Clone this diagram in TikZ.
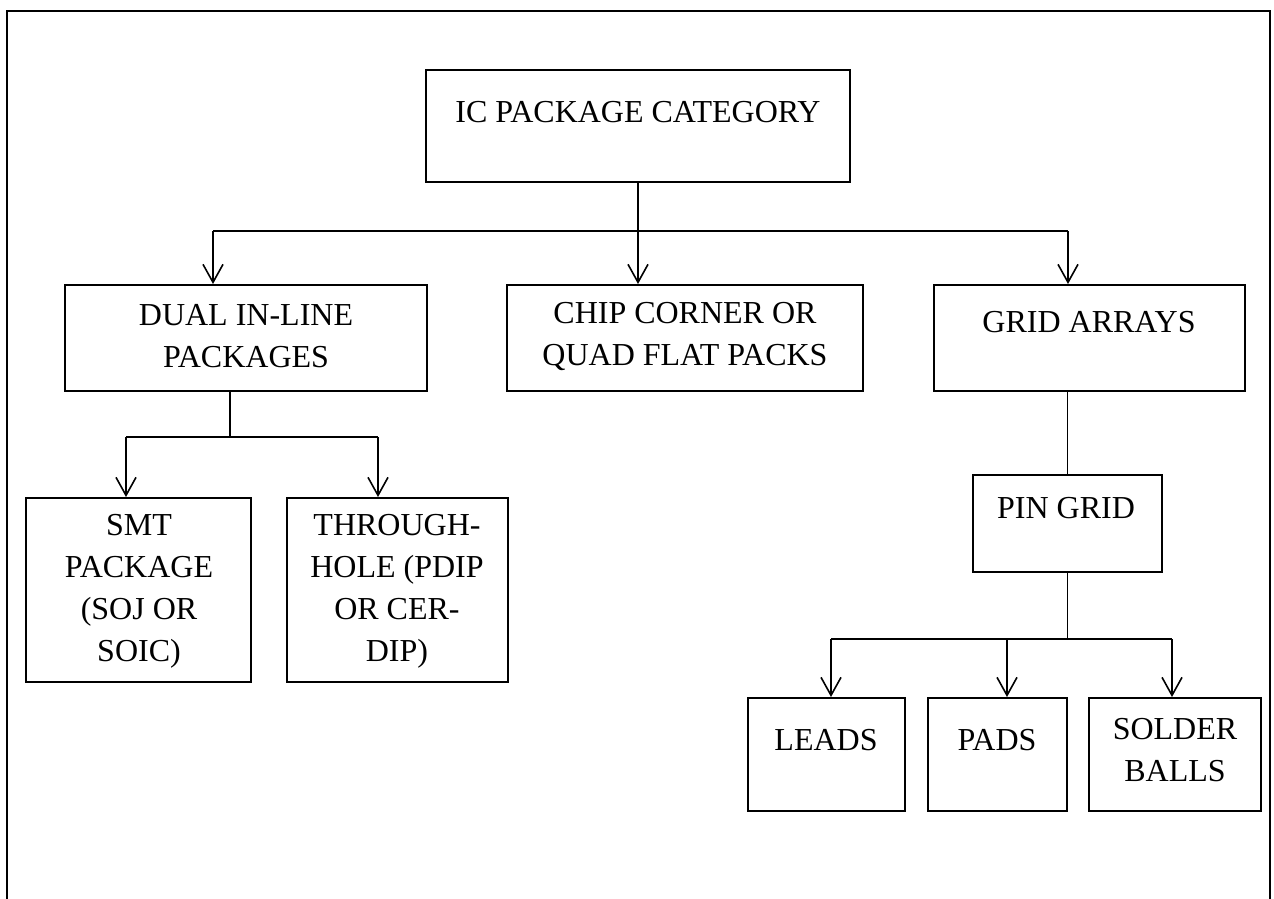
\documentclass[tikz,border=0pt]{standalone}
\usepackage{fontspec}
\setmainfont{Liberation Serif}
\usetikzlibrary{arrows.meta}

\newcommand{\pxu}{0.75pt}
\tikzset{
	box/.style={draw, line width=1.5pt, inner sep=0pt},
	txt/.style={align=center, inner sep=0pt, font=\fontsize{24}{31.5}\selectfont},
	arr/.style={-{Straight Barb[length=13.5pt,width=15pt]}, line width=1.2pt},
	link/.style={line width=0.8pt}
}

\begin{document}
\begin{tikzpicture}[x=0.75pt,y=-0.75pt]
	\useasboundingbox (0,0) rectangle (1274,899);
	\draw[line width=1.5pt] (7,910) -- (7,11) -- (1270,11) -- (1270,910);

	% top level
	\node[box, minimum width=424*\pxu, minimum height=112*\pxu] (ic) at (638,126) {};
	\node[txt] (ic-t) at (638,112) {IC PACKAGE CATEGORY};

	% second level
	\node[box, minimum width=362*\pxu, minimum height=106*\pxu] (dual) at (246,338) {};
	\node[txt] (dual-t) at (246,336) {DUAL IN-LINE\\PACKAGES};
	\node[box, minimum width=356*\pxu, minimum height=106*\pxu] (chip) at (685,338) {};
	\node[txt] (chip-t) at (685,336) {CHIP CORNER OR\\QUAD FLAT PACKS};
	\node[box, minimum width=311*\pxu, minimum height=106*\pxu] (grid) at (1089.5,338) {};
	\node[txt] (grid-t) at (1089,322) {GRID ARRAYS};

	% dual in-line children
	\node[box, minimum width=225*\pxu, minimum height=184*\pxu] (smt) at (138.5,590) {};
	\node[txt] (smt-t) at (139,591) {SMT\\PACKAGE\\(SOJ OR\\SOIC)};
	\node[box, minimum width=221*\pxu, minimum height=184*\pxu] (thru) at (397.5,590) {};
	\node[txt] (thru-t) at (397,591) {THROUGH-\\HOLE (PDIP\\OR CER-\\DIP)};

	% grid array children
	\node[box, minimum width=189*\pxu, minimum height=97*\pxu] (pin) at (1067.5,523.5) {};
	\node[txt] (pin-t) at (1066,508) {PIN GRID};
	\node[box, minimum width=157*\pxu, minimum height=113*\pxu] (leads) at (826.5,754.5) {};
	\node[txt] (leads-t) at (826,740) {LEADS};
	\node[box, minimum width=139*\pxu, minimum height=113*\pxu] (pads) at (997.5,754.5) {};
	\node[txt] (pads-t) at (997,740) {PADS};
	\node[box, minimum width=172*\pxu, minimum height=113*\pxu] (solder) at (1175,754.5) {};
	\node[txt] (solder-t) at (1175,750) {SOLDER\\BALLS};

	% connectors
	\coordinate (top-l) at (213,231);
	\coordinate (top-r) at (1068,231);
	\draw[link] (top-l) -- (top-r);
	\draw[arr] (ic.south) -- (ic.south |- chip.north);
	\draw[arr] (top-l) -- (top-l |- dual.north);
	\draw[arr] (top-r) -- (top-r |- grid.north);

	\coordinate (dip-l) at (126,437);
	\coordinate (dip-m) at (230,437);
	\coordinate (dip-r) at (378,437);
	\draw[link] (dip-m |- dual.south) -- (dip-m);
	\draw[link] (dip-l) -- (dip-r);
	\draw[arr] (dip-l) -- (dip-l |- smt.north);
	\draw[arr] (dip-r) -- (dip-r |- thru.north);

	\draw[link] (pin.north |- grid.south) -- (pin.north);
	\coordinate (pga-l) at (831,639);
	\coordinate (pga-m) at (1007,639);
	\coordinate (pga-r) at (1172,639);
	\draw[link] (pin.south) -- (pin.south |- pga-l);
	\draw[link] (pga-l) -- (pga-r);
	\draw[arr] (pga-l) -- (pga-l |- leads.north);
	\draw[arr] (pga-m) -- (pga-m |- pads.north);
	\draw[arr] (pga-r) -- (pga-r |- solder.north);
\end{tikzpicture}
\end{document}
